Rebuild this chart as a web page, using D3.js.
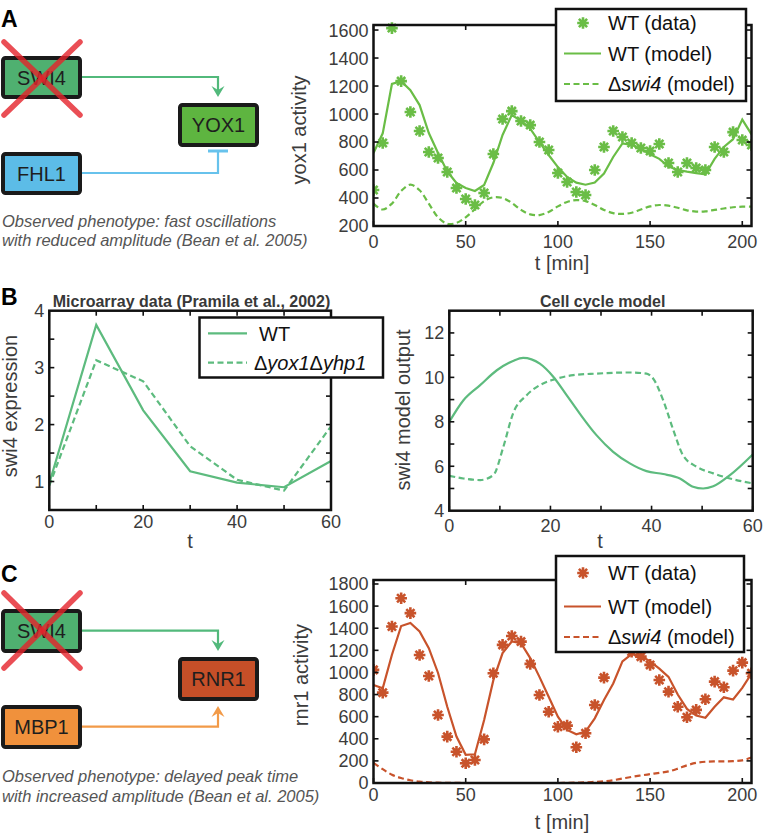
<!DOCTYPE html>
<html><head><meta charset="utf-8">
<script src="https://cdn.jsdelivr.net/npm/d3@7"></script>
<style>
body{margin:0;background:#fff}
svg{display:block}
text{font-family:"Liberation Sans",Arial,Helvetica,sans-serif}
</style>
</head><body>
<svg id="fig" width="763" height="837"></svg>
<script>
// ---------------- DATA ----------------
const timeGrid = [0,5,10,15,20,25,30,35,40,45,50,55,60,65,70,75,80,85,90,95,100,105,110,115,120,125,130,135,140,145,150,155,160,165,170,175,180,185,190,195,200,205];

// Panel A: yox1 activity
const yox1Data  = [457,793,1614,1235,1014,879,729,686,586,471,393,350,436,714,964,1021,950,921,800,743,579,514,443,421,600,764,879,836,793,757,736,786,650,586,650,614,600,764,729,871,814,779];
const yox1Model = [721,862,1215,1235,1171,1064,864,721,590,507,471,450,493,650,850,993,952,895,800,707,621,550,510,495,510,575,693,790,780,752,712,680,625,600,588,578,570,680,765,820,960,855];
const yox1Swi4  = [360,318,360,450,495,455,360,262,216,222,262,320,378,405,400,365,315,283,278,300,340,372,385,378,350,315,292,286,295,318,340,350,345,330,312,303,305,315,325,334,338,338];

// Panel B left: microarray data
const bTimes   = [0,10,20,30,40,50,60];
const swi4WT   = [0.97,3.75,2.25,1.18,0.98,0.90,1.36];
const swi4Mut  = [0.93,3.13,2.76,1.62,1.03,0.84,1.97];

// Panel B right: cell cycle model
const bmWTt  = [0,2.8,6.1,9.4,12.6,14.6,17.9,20.6,23.2,25.8,29.1,32.4,35.7,39,42.3,45.6,48.2,50.2,52.2,55.5,60];
const bmWT   = [8.0,8.97,9.65,10.32,10.74,10.88,10.62,10.02,9.2,8.37,7.4,6.65,6.13,5.78,5.65,5.45,5.08,5.0,5.1,5.6,6.53];
const bmMutT = [0,2.8,6.1,8.7,10.7,12.6,15.3,17.9,20.6,24.5,29.1,35.7,39,40.3,42.3,44.3,46.2,48.9,52.2,55.5,60];
const bmMut  = [5.57,5.45,5.38,5.6,6.88,8.37,9.2,9.65,9.9,10.1,10.17,10.22,10.17,9.95,8.97,7.63,6.5,5.98,5.68,5.45,5.23];

// Panel C: rnr1 activity
const rnr1Data  = [1023,817,1415,1671,1536,1158,968,615,419,283,178,208,395,993,1249,1330,1279,1077,796,645,509,519,323,450,706,953,1240,1300,1188,1143,1068,932,826,690,595,661,757,917,866,1016,1089,993];
const rnr1Model = [887,857,1160,1420,1448,1370,1220,995,690,420,255,260,570,930,1175,1280,1265,1130,960,780,600,480,440,465,585,750,900,1100,1165,1150,1100,1035,960,800,670,610,590,690,775,755,860,990];
const rnr1Swi4  = [182,125,75,45,25,12,6,3,2,1,0,0,0,0,0,0,0,0,0,0,0,1,3,6,10,15,25,40,55,68,80,92,105,130,160,182,192,195,195,197,205,230];

// tick values
const xTicksMin = [0,50,100,150,200];
const yTicksA   = [200,400,600,800,1000,1200,1400,1600];
const yTicksC   = [0,200,400,600,800,1000,1200,1400,1600,1800];
const xTicksB   = [0,10,20,30,40,50,60];
const xLabB     = [0,20,40,60];
const yTicksBL  = [1,1.5,2,2.5,3,3.5];
const yLabBL    = [1,2,3,4];
const yTicksBR  = [5,6,7,8,9,10,11,12];
const yLabBR    = [4,6,8,10,12];

// ---------------- STYLE ----------------
const greenA = '#6abd46', greenB = '#5dbb7e', redC = '#c8532b';
const txt = '#3c3c3c';
const svg = d3.select('#fig');

function frame(g, x, y, xAll, xLab, yAll, yLab, xLabBase, tl=5) {
  const [x0,x1] = x.range(), [yb,yt] = y.range();
  xAll.forEach(v => {
    const px = x(v);
    g.append('line').attr('x1',px).attr('x2',px).attr('y1',yb).attr('y2',yb-tl).attr('stroke','#111').attr('stroke-width',1.6);
    g.append('line').attr('x1',px).attr('x2',px).attr('y1',yt).attr('y2',yt+tl).attr('stroke','#111').attr('stroke-width',1.6);
  });
  yAll.forEach(v => {
    const py = y(v);
    g.append('line').attr('x1',x0).attr('x2',x0+tl).attr('y1',py).attr('y2',py).attr('stroke','#111').attr('stroke-width',1.6);
    g.append('line').attr('x1',x1).attr('x2',x1-tl).attr('y1',py).attr('y2',py).attr('stroke','#111').attr('stroke-width',1.6);
  });
  g.append('rect').attr('x',x0).attr('y',yt).attr('width',x1-x0).attr('height',yb-yt)
    .attr('fill','none').attr('stroke','#111').attr('stroke-width',2.5);
  xLab.forEach(v => g.append('text').attr('x',x(v)).attr('y',xLabBase).attr('text-anchor','middle')
    .attr('font-size',18).attr('fill',txt).text(v));
  yLab.forEach(v => g.append('text').attr('x',x0-5).attr('y',y(v)).attr('dy','0.36em').attr('text-anchor','end')
    .attr('font-size',18).attr('fill',txt).text(v));
}

function clip(id, x, y) {
  const [x0,x1] = x.range(), [yb,yt] = y.range();
  svg.append('clipPath').attr('id',id).append('rect').attr('x',x0).attr('y',yt-8).attr('width',x1-x0).attr('height',yb-yt+8);
}

function stars(g, xs, ys, x, y, color) {
  const r = 5.8, d = r*0.7071;
  g.selectAll(null).data(xs.map((t,i)=>[t,ys[i]])).enter().append('path')
    .attr('transform', p => `translate(${x(p[0])},${y(p[1])})`)
    .attr('d', `M${-r},0H${r}M0,${-r}V${r}M${-d},${-d}L${d},${d}M${-d},${d}L${d},${-d}`)
    .attr('stroke', color).attr('stroke-width', 2.6).attr('fill','none');
}

function line(g, xs, ys, x, y, color, dashed, curve) {
  const gen = d3.line().x(p=>x(p[0])).y(p=>y(p[1])).curve(curve || d3.curveLinear);
  g.append('path').attr('d', gen(xs.map((t,i)=>[t,ys[i]])))
    .attr('fill','none').attr('stroke',color).attr('stroke-width',2.2)
    .attr('stroke-dasharray', dashed ? '6,3.5' : null);
}

function ylabel(x, y, s) {
  svg.append('text').attr('transform',`translate(${x},${y}) rotate(-90)`).attr('text-anchor','middle')
    .attr('font-size',20).attr('fill',txt).text(s);
}
function xlabel(x, y, s) {
  svg.append('text').attr('x',x).attr('y',y).attr('text-anchor','middle').attr('font-size',20).attr('fill',txt).text(s);
}

function legend3(gy, box, rows, color) {
  const g = svg.append('g');
  g.append('rect').attr('x',box[0]).attr('y',box[1]).attr('width',box[2]).attr('height',box[3])
    .attr('fill','#fff').attr('stroke','#111').attr('stroke-width',2.5);
  const r = 5.8, d = r*0.7071;
  g.append('path').attr('transform',`translate(583,${rows[0]})`)
    .attr('d', `M${-r},0H${r}M0,${-r}V${r}M${-d},${-d}L${d},${d}M${-d},${d}L${d},${-d}`)
    .attr('stroke',color).attr('stroke-width',2.6);
  g.append('line').attr('x1',564).attr('x2',601).attr('y1',rows[1]).attr('y2',rows[1]).attr('stroke',color).attr('stroke-width',2.2);
  g.append('line').attr('x1',564).attr('x2',601).attr('y1',rows[2]).attr('y2',rows[2]).attr('stroke',color).attr('stroke-width',2.2).attr('stroke-dasharray','6,3.5');
  g.append('text').attr('x',608).attr('y',rows[0]).attr('dy','0.36em').attr('font-size',20).attr('fill','#111').text('WT (data)');
  g.append('text').attr('x',608).attr('y',rows[1]).attr('dy','0.36em').attr('font-size',20).attr('fill','#111').text('WT (model)');
  const t = g.append('text').attr('x',608).attr('y',rows[2]).attr('dy','0.36em').attr('font-size',20).attr('fill','#111');
  t.append('tspan').text('\u0394');
  t.append('tspan').attr('font-style','italic').text('swi4');
  t.append('tspan').text(' (model)');
}

// ---------------- PANEL A ----------------
const xA = d3.scaleLinear().domain([0,205]).range([373.5,751.5]);
const yA = d3.scaleLinear().domain([200,1636]).range([226,25]);
clip('cA', xA, yA);
const gA = svg.append('g').attr('clip-path','url(#cA)');
line(gA, timeGrid, yox1Swi4, xA, yA, greenA, true, d3.curveCatmullRom);
line(gA, timeGrid, yox1Model, xA, yA, greenA, false);
stars(gA, timeGrid, yox1Data, xA, yA, greenA);
frame(svg.append('g'), xA, yA, xTicksMin, xTicksMin, yTicksA, yTicksA, 248);
ylabel(306, 130, 'yox1 activity');
xlabel(562, 270, 't [min]');
legend3(svg, [556,9,190,92], [23,53.5,84], greenA);

// ---------------- PANEL B LEFT ----------------
const xBL = d3.scaleLinear().domain([0,60]).range([49.3,331]);
const yBL = d3.scaleLinear().domain([0.5,4]).range([510,310.7]);
const gBL = svg.append('g');
line(gBL, bTimes, swi4Mut, xBL, yBL, greenB, true);
line(gBL, bTimes, swi4WT, xBL, yBL, greenB, false);
frame(svg.append('g'), xBL, yBL, xTicksB, xLabB, yTicksBL, yLabBL, 528);
svg.append('text').attr('x',191.5).attr('y',306.5).attr('text-anchor','middle').attr('font-size',16)
  .attr('font-weight','bold').attr('fill','#383838').text('Microarray data (Pramila et al., 2002)');
ylabel(17, 406, 'swi4 expression');
xlabel(190, 548, 't');
{
  const g = svg.append('g');
  g.append('rect').attr('x',199.5).attr('y',317.5).attr('width',183.5).attr('height',60)
    .attr('fill','#fff').attr('stroke','#111').attr('stroke-width',2.5);
  g.append('line').attr('x1',208).attr('x2',247).attr('y1',333.3).attr('y2',333.3).attr('stroke',greenB).attr('stroke-width',2.2);
  g.append('line').attr('x1',208).attr('x2',247).attr('y1',362.7).attr('y2',362.7).attr('stroke',greenB).attr('stroke-width',2.2).attr('stroke-dasharray','6,3.5');
  g.append('text').attr('x',259).attr('y',333.3).attr('dy','0.36em').attr('font-size',20).attr('fill','#111').text('WT');
  const t = g.append('text').attr('x',254).attr('y',362.7).attr('dy','0.36em').attr('font-size',20).attr('fill','#111');
  t.append('tspan').text('\u0394');
  t.append('tspan').attr('font-style','italic').text('yox1');
  t.append('tspan').text('\u0394');
  t.append('tspan').attr('font-style','italic').text('yhp1');
}

// ---------------- PANEL B RIGHT ----------------
const xBR = d3.scaleLinear().domain([0,60]).range([449.3,752.7]);
const yBR = d3.scaleLinear().domain([4,13]).range([510.7,310.7]);
const gBR = svg.append('g');
line(gBR, bmMutT, bmMut, xBR, yBR, greenB, true, d3.curveMonotoneX);
line(gBR, bmWTt, bmWT, xBR, yBR, greenB, false, d3.curveMonotoneX);
frame(svg.append('g'), xBR, yBR, xTicksB, xLabB, yTicksBR, yLabBR, 531.5);
svg.append('text').attr('x',602.7).attr('y',306.5).attr('text-anchor','middle').attr('font-size',16)
  .attr('font-weight','bold').attr('fill','#383838').text('Cell cycle model');
ylabel(410, 410, 'swi4 model output');
xlabel(600, 548, 't');

// ---------------- PANEL C ----------------
const xC = d3.scaleLinear().domain([0,205]).range([373.5,751.5]);
const yC = d3.scaleLinear().domain([0,1836]).range([783,580]);
clip('cC', xC, yC);
const gC = svg.append('g').attr('clip-path','url(#cC)');
line(gC, timeGrid, rnr1Swi4, xC, yC, redC, true, d3.curveCatmullRom);
line(gC, timeGrid, rnr1Model, xC, yC, redC, false);
stars(gC, timeGrid, rnr1Data, xC, yC, redC);
frame(svg.append('g'), xC, yC, xTicksMin, xTicksMin, yTicksC, yTicksC, 800.5);
ylabel(307.5, 675, 'rnr1 activity');
xlabel(562, 829, 't [min]');
legend3(svg, [556,556,188,96], [573,606.5,637], redC);

// ---------------- DIAGRAMS ----------------
function box(x, y, w, h, fill, label) {
  svg.append('rect').attr('x',x).attr('y',y).attr('width',w).attr('height',h).attr('rx',2.5)
    .attr('fill',fill).attr('stroke','#1a1a1a').attr('stroke-width',4);
  svg.append('text').attr('x',x+w/2).attr('y',y+h/2).attr('dy','0.36em').attr('text-anchor','middle')
    .attr('font-size',20).attr('fill','#1e1e1e').text(label);
}
function cross(x0, y0, x1, y1) {
  [[x0,y0,x1,y1],[x1,y0,x0,y1]].forEach(c =>
    svg.append('line').attr('x1',c[0]).attr('y1',c[1]).attr('x2',c[2]).attr('y2',c[3])
      .attr('stroke','#e5232b').attr('stroke-width',5.5).attr('stroke-linecap','round').attr('opacity',0.8));
}
function arrowHead(x, tipY, dir, color) {
  const L = 11*dir, n = 7*dir;
  svg.append('path').attr('d',`M${x-6.5},${tipY-L}L${x},${tipY}L${x+6.5},${tipY-L}L${x},${tipY-n}Z`).attr('fill',color);
}
const greenArrow = '#52b97b', blueLine = '#67c2ec', orangeArrow = '#f29a48';

// Panel A diagram
svg.append('path').attr('d','M82,77H218V92').attr('fill','none').attr('stroke',greenArrow).attr('stroke-width',2.2);
arrowHead(218, 97, 1, greenArrow);
svg.append('path').attr('d','M82,173H218V151').attr('fill','none').attr('stroke',blueLine).attr('stroke-width',2.2);
svg.append('line').attr('x1',208).attr('x2',228).attr('y1',151).attr('y2',151).attr('stroke',blueLine).attr('stroke-width',3);
box(3,58,77,39,'#4fb070','SWI4');
box(180,105,77,40,'#5eb540','YOX1');
box(3,154,77,39,'#5cbce7','FHL1');
cross(4,42,80,115);
svg.append('text').attr('x',2).attr('y',226.5).attr('font-size',16.5).attr('font-style','italic').attr('fill','#555')
  .text('Observed phenotype: fast oscillations');
svg.append('text').attr('x',2).attr('y',246).attr('font-size',16.5).attr('font-style','italic').attr('fill','#555')
  .text('with reduced amplitude (Bean et al. 2005)');

// Panel C diagram
svg.append('path').attr('d','M82,630.7H218V646').attr('fill','none').attr('stroke',greenArrow).attr('stroke-width',2.2);
arrowHead(218, 651, 1, greenArrow);
svg.append('path').attr('d','M82,726.7H218V711').attr('fill','none').attr('stroke',orangeArrow).attr('stroke-width',2.2);
arrowHead(218, 706, -1, orangeArrow);
box(3,611,77,40,'#4fb070','SWI4');
box(180,659,77,40,'#c64f28','RNR1');
box(3,707,77,40,'#f0913c','MBP1');
cross(4,593,80,668);
svg.append('text').attr('x',2).attr('y',782).attr('font-size',16.5).attr('font-style','italic').attr('fill','#555')
  .text('Observed phenotype: delayed peak time');
svg.append('text').attr('x',2).attr('y',801.5).attr('font-size',16.5).attr('font-style','italic').attr('fill','#555')
  .text('with increased amplitude (Bean et al. 2005)');

// Panel letters
[['A',26.5],['B',305],['C',582]].forEach(p =>
  svg.append('text').attr('x',1).attr('y',p[1]).attr('font-size',23).attr('font-weight','bold').attr('fill','#000').text(p[0]));
</script>
</body></html>
